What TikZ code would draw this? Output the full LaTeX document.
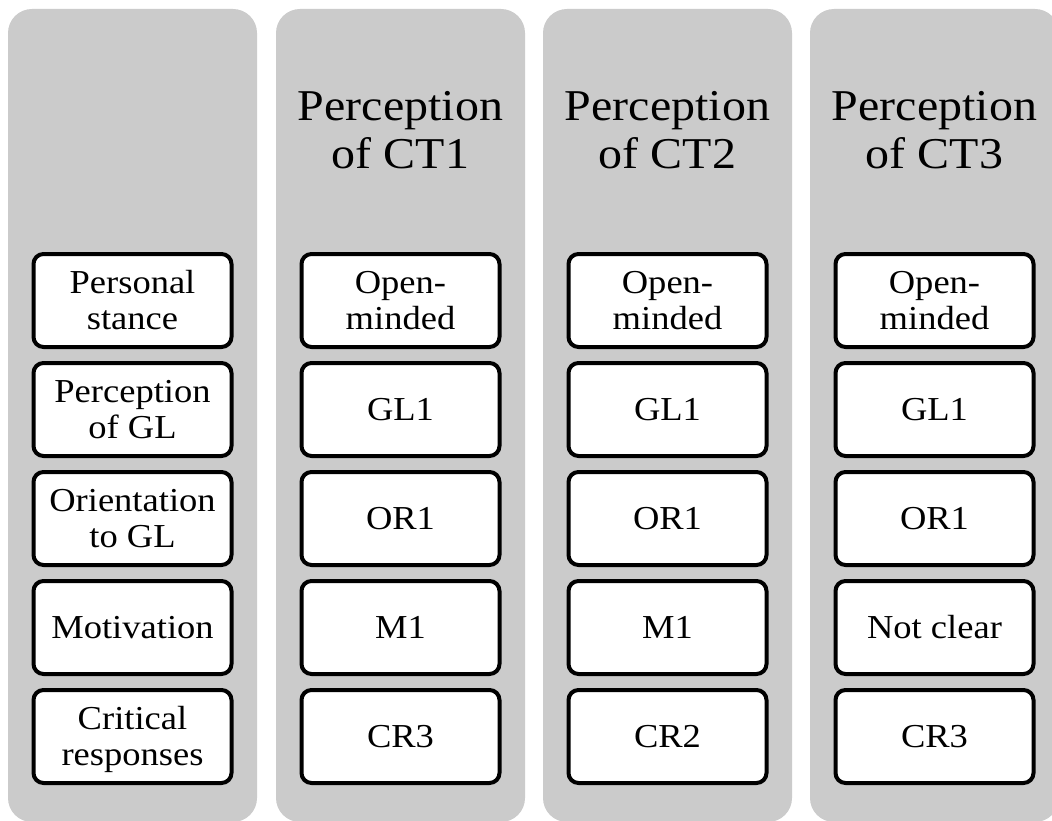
\documentclass[tikz,border=0pt]{standalone}
\usepackage{fontspec}
\setmainfont[FakeStretch=1.09]{Liberation Serif}
\definecolor{colgray}{RGB}{203,203,203}
% line struts so one- and two-line labels sit at the same optical centre
\newcommand\headstrut{\rule[-9pt]{0pt}{47pt}}
\newcommand\cellstrut{\rule[-7.5pt]{0pt}{36pt}}
\begin{document}
\begin{tikzpicture}[x=1pt,y=-1pt,
  column/.style={fill=colgray, draw=none, rounded corners=24pt},
  head/.style={font=\fontsize{44}{47}\selectfont, align=center, inner sep=0pt},
  cell/.style={draw=black, line width=4pt, fill=white, rounded corners=10pt,
    minimum width=198pt, minimum height=93pt, inner sep=0pt, align=center,
    font=\fontsize{33.5}{36}\selectfont}]
\useasboundingbox (0,0) rectangle (1052,821);
\clip (0,0) rectangle (1052,821);

% grey column panels
\foreach \c/\xl in {1/8,2/276,3/543,4/810}
  \path[column] (\xl,9) rectangle ++(249,813);

% column headings
\node[head] (h2) at (400.5,130) {\headstrut Perception\\\headstrut of CT1};
\node[head] (h3) at (667.5,130) {\headstrut Perception\\\headstrut of CT2};
\node[head] (h4) at (934.5,130) {\headstrut Perception\\\headstrut of CT3};

% row labels
\node[cell] (a1) at (132.5,300.5) {\cellstrut Personal\\\cellstrut stance};
\node[cell] (a2) at (132.5,409.5) {\cellstrut Perception\\\cellstrut of GL};
\node[cell] (a3) at (132.5,518.5) {\cellstrut Orientation\\\cellstrut to GL};
\node[cell] (a4) at (132.5,627.5) {\cellstrut Motivation};
\node[cell] (a5) at (132.5,736.5) {\cellstrut Critical\\\cellstrut responses};

% CT1
\node[cell] (b1) at (400.5,300.5) {\cellstrut Open-\\\cellstrut minded};
\node[cell] (b2) at (400.5,409.5) {\cellstrut GL1};
\node[cell] (b3) at (400.5,518.5) {\cellstrut OR1};
\node[cell] (b4) at (400.5,627.5) {\cellstrut M1};
\node[cell] (b5) at (400.5,736.5) {\cellstrut CR3};

% CT2
\node[cell] (c1) at (667.5,300.5) {\cellstrut Open-\\\cellstrut minded};
\node[cell] (c2) at (667.5,409.5) {\cellstrut GL1};
\node[cell] (c3) at (667.5,518.5) {\cellstrut OR1};
\node[cell] (c4) at (667.5,627.5) {\cellstrut M1};
\node[cell] (c5) at (667.5,736.5) {\cellstrut CR2};

% CT3
\node[cell] (d1) at (934.5,300.5) {\cellstrut Open-\\\cellstrut minded};
\node[cell] (d2) at (934.5,409.5) {\cellstrut GL1};
\node[cell] (d3) at (934.5,518.5) {\cellstrut OR1};
\node[cell] (d4) at (934.5,627.5) {\cellstrut Not clear};
\node[cell] (d5) at (934.5,736.5) {\cellstrut CR3};
\end{tikzpicture}
\end{document}
